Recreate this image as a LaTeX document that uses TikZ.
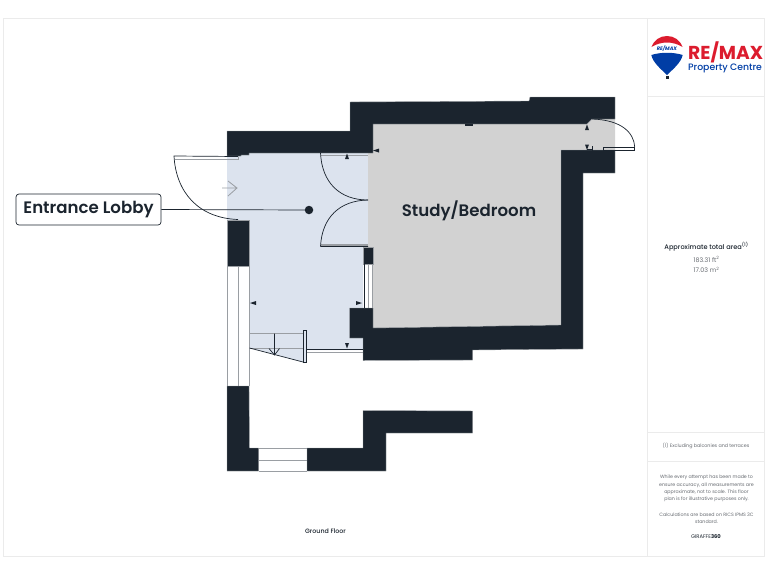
\documentclass[tikz,border=0pt]{standalone}
\usepackage{fontspec}
\setmainfont{Poppins}
\newfontfamily\medfont[UprightFont=* Medium,BoldFont=* SemiBold]{Poppins}
\definecolor{wall}{HTML}{1B242E}
\definecolor{wedge}{HTML}{9A9EA3}
\definecolor{lobby}{HTML}{DCE3EE}
\definecolor{room}{HTML}{D2D2D2}
\definecolor{panel}{HTML}{EBEBEB}
\definecolor{rmred}{HTML}{DC1C2E}
\definecolor{rmblue}{HTML}{003DA5}
\definecolor{soft}{HTML}{666A70}
\tikzset{
  wallfill/.style={fill=wall,draw=wedge,line width=0.4pt},
  glass/.style={draw=wedge,line width=0.8pt},
  hair/.style={draw=wall,line width=0.7pt},
  tick/.style={fill=wall,draw=none},
  panelline/.style={draw=panel,line width=0.9pt},
  smalltext/.style={font=\fontsize{6.3}{8}\selectfont,text=soft,align=center},
}
\begin{document}
\begin{tikzpicture}[x=1pt,y=-1pt]
\useasboundingbox (0,0) rectangle (768,576);
% panels
\draw[panelline] (3,18) rectangle (764.5,556);
\draw[panelline] (647.5,18) -- (647.5,556);
\draw[panelline] (647.5,96) -- (764.5,96);
\draw[panelline] (647.5,432) -- (764.5,432);
\draw[panelline] (647.5,461.5) -- (764.5,461.5);
% fills
\fill[lobby] (227,156) -- (249,153) -- (368,153) -- (368,247) -- (363,247) -- (363,350) -- (306,350) -- (306,362) -- (303,362) -- (249.5,348) -- (249,220) -- (227,220) -- cycle;
\fill[room] (373,124) -- (587,124) -- (592,119) -- (615,119) -- (615,150) -- (561,150) -- (561,325) -- (373,328) -- (373,247) -- (368,247) -- (368,153) -- (373,153) -- cycle;
% walls
\draw[wallfill] (227,131) -- (350,131) -- (350,102) -- (529,101) -- (530,97) -- (615,97) -- (615,119) -- (592,119) -- (587,124) -- (373,124) -- (373,153) -- (249,153) -- (249,155) -- (241,155) -- (241,156) -- (227,156) -- cycle;
\draw[wallfill] (561,150) -- (615,150) -- (615,173) -- (583,173) -- (583,349) -- (472.5,350) -- (472.5,360) -- (363,360.5) -- (363,338) -- (349.5,338) -- (349.5,308) -- (373,308) -- (373,328) -- (561,325) -- cycle;
\draw[wallfill] (227,220) -- (249,220) -- (249,266) -- (227,266) -- cycle;
\draw[wallfill] (363.5,247.5) -- (373,247.5) -- (373,264) -- (363.5,264) -- cycle;
\draw[wallfill] (227,386) -- (249,386) -- (249.5,448) -- (258.5,448) -- (258.5,471) -- (227,471) -- cycle;
\draw[wallfill] (307,448) -- (363,448) -- (363,410.5) -- (472.5,411) -- (472.5,433) -- (386,433) -- (386,471) -- (307,471) -- cycle;
% windows
\draw[glass] (227,266) -- (227,386) (238,266) -- (238,386) (249,266) -- (249,386);
\draw[glass] (258.5,448) -- (307,448) (258.5,460) -- (307,460) (258.5,471) -- (307,471);
\draw[hair] (364,264) -- (364,308);
\draw[glass] (368,264) -- (368,308) (372.5,264) -- (372.5,308);
% double door
\draw[glass,line width=1.2pt] (321,155.5) -- (368,155.5) (321,245) -- (368,245);
\draw[hair] (320.5,153) .. controls (322,183) and (340,200) .. (368,200);
\draw[hair] (320.5,246.5) .. controls (322,217) and (340,200.5) .. (368,200) (320.5,246.5) -- (368,246.5);
% front door
\draw[hair] (238,156.5) -- (174,156) .. controls (176,192) and (198,218) .. (238,219.5);
\draw[glass] (174.5,159) -- (238,159) -- (238,156.5);
% entry arrow
\draw[wedge,line width=0.8pt] (222,188) -- (237,188) (228,181) -- (237,188) -- (228,196);
% right door
\draw[hair] (603.5,150.5) -- (603.5,147) -- (634.7,147) -- (634.7,150.5) -- cycle;
\draw[hair] (634.7,147) .. controls (634,133) and (622,120) .. (592,119);
\draw[hair] (592,146) -- (592,151) (587,149) -- (592,149);
% stairs
\draw[glass] (249.5,333.5) -- (303,333.5) (249.5,348.5) -- (303,348.5);
\draw[hair] (249.5,348) -- (303,362);
\draw[hair] (274.5,333.5) -- (274.5,355) (269,348.5) -- (274.5,355) -- (279.5,348.5);
\draw[hair] (303.3,330.5) rectangle (306.7,362.5);
\draw[glass] (306.7,352.5) -- (363,352.5);
\draw[hair] (306.7,349.5) -- (363,349.5);
% small marks
\fill[tick] (347,153.5) -- (345,159) -- (349,159) -- cycle;
\fill[tick] (373,150.5) -- (379,148.5) -- (379,152.5) -- cycle;
\fill[tick] (250,303) -- (256,301) -- (256,305) -- cycle;
\fill[tick] (362,303) -- (356,301) -- (356,305) -- cycle;
\fill[tick] (347,348.5) -- (345,343) -- (349,343) -- cycle;
\fill[tick] (587,124.5) -- (585,130) -- (589,130) -- cycle;
\fill[tick] (587,150) -- (585,144.5) -- (589,144.5) -- cycle;
\fill[tick] (465,124) rectangle (473,126);
% labels
\node[font=\medfont\bfseries\fontsize{16.6}{18}\selectfont,text=wall,inner sep=0pt] (study) at (469,211) {Study/Bedroom};
\node[draw=wall,line width=0.7pt,rounded corners=3pt,fill=white,minimum width=145pt,minimum height=31pt,inner sep=0pt,font=\medfont\bfseries\fontsize{16.6}{18}\selectfont,text=wall] (lbl) at (88.5,209.5) {Entrance Lobby};
\node[circle,fill=wall,minimum size=8.5pt,inner sep=0pt] (dot) at (309,210) {};
\draw[hair] (lbl.east) -- (dot.center);
\node[font=\medfont\fontsize{6.3}{7}\selectfont,text=wall,inner sep=0pt] (floor) at (325.5,531.5) {Ground Floor};
% side text
\node[font=\medfont\fontsize{6.6}{8}\selectfont,text=wall,inner sep=0pt] (area) at (706.5,247) {Approximate total area\textsuperscript{(1)}};
\node[smalltext] (ft) at (706.5,259.5) {183.31 ft\textsuperscript{2}};
\node[smalltext] (m) at (706.5,270) {17.03 m\textsuperscript{2}};
\node[font=\fontsize{4.8}{7}\selectfont,text=soft,inner sep=0pt] (ex) at (706,446) {(1) Excluding balconies and terraces};
\node[font=\fontsize{4.75}{7.2}\selectfont,text=soft,align=center,inner sep=0pt] (note) at (706.5,488.5) {While every attempt has been made to\\ensure accuracy, all measurements are\\approximate, not to scale. This floor\\plan is for illustrative purposes only.};
\node[font=\fontsize{4.75}{7.2}\selectfont,text=soft,align=center,inner sep=0pt] (calc) at (706.5,518.5) {Calculations are based on RICS IPMS 3C\\standard.};
\node[font=\fontsize{5.2}{7}\selectfont,text=wall,inner sep=0pt] (gir) at (706,536.5) {GIRAFFE\textbf{360}};
% logo
\fill[rmred] (651.5,47) .. controls (654,40) and (660,36) .. (667,36) .. controls (674,36) and (680,40) .. (682.5,47) .. controls (673,41) and (661,41) .. (651.5,47) -- cycle;
\fill[rmblue] (651.3,55) .. controls (661,52) and (673,52) .. (682.7,55) .. controls (681,63) and (672,70) .. (667,75) .. controls (662,70) and (653,63) .. (651.3,55) -- cycle;
\fill[wall] (665.5,76) rectangle (668.5,78.5);
\node[font=\fontsize{5}{5}\selectfont\bfseries\itshape,text=rmblue,inner sep=0pt] (mini) at (667,48.5) {RE/MAX};
\node[font=\fontsize{18.7}{18}\selectfont\bfseries,text=rmred,inner sep=0pt,anchor=base west] (brand) at (688,59.5) {RE/MAX};
\node[font=\medfont\fontsize{9.3}{9}\selectfont,text=rmblue,inner sep=0pt,anchor=base west] (pc) at (688,70.5) {Property Centre};
\end{tikzpicture}
\end{document}
